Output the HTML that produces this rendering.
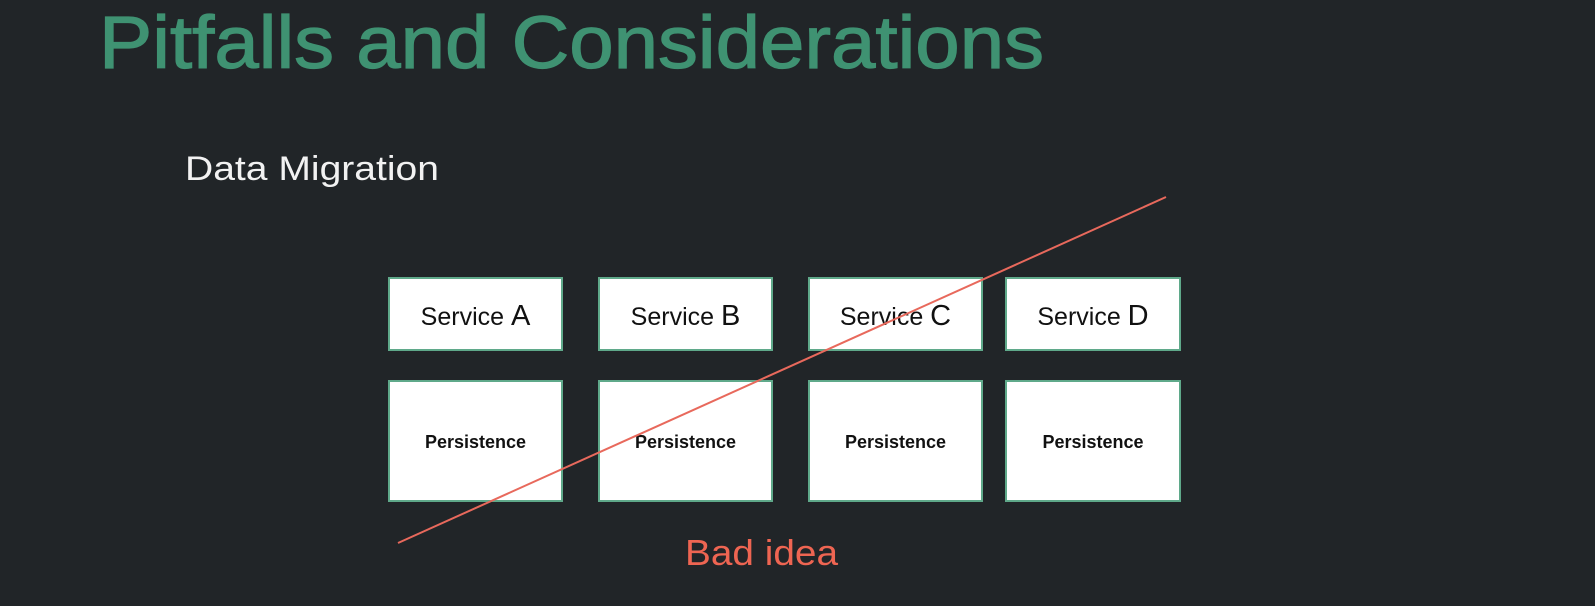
<!DOCTYPE html>
<html><head><meta charset="utf-8"><style>
html,body{margin:0;padding:0;background:#212528;}
svg{display:block;}
</style></head><body>
<svg width="1595" height="606" viewBox="0 0 1595 606" xmlns="http://www.w3.org/2000/svg">
<rect width="1595" height="606" fill="#212528"/>
<text x="99" y="68" font-family="Liberation Sans, sans-serif" font-size="74" fill="#3f9272" stroke="#3f9272" stroke-width="1.2" textLength="945" lengthAdjust="spacingAndGlyphs">Pitfalls and Considerations</text>
<text x="185" y="180" font-family="Liberation Sans, sans-serif" font-size="34" fill="#f2f2f2" textLength="254" lengthAdjust="spacingAndGlyphs">Data Migration</text>
<g stroke="#5fa98a" stroke-width="2" fill="#ffffff">
<rect x="389" y="278" width="173" height="72"/>
<rect x="599" y="278" width="173" height="72"/>
<rect x="809" y="278" width="173" height="72"/>
<rect x="1006" y="278" width="174" height="72"/>
<rect x="389" y="381" width="173" height="120"/>
<rect x="599" y="381" width="173" height="120"/>
<rect x="809" y="381" width="173" height="120"/>
<rect x="1006" y="381" width="174" height="120"/>
</g>
<g font-family="Liberation Sans, sans-serif" font-size="25" fill="#111" text-anchor="middle">
<text x="475.5" y="325">Service <tspan font-size="29">A</tspan></text>
<text x="685.5" y="325">Service <tspan font-size="29">B</tspan></text>
<text x="895.5" y="325">Service <tspan font-size="29">C</tspan></text>
<text x="1093" y="325">Service <tspan font-size="29">D</tspan></text>
</g>
<g font-family="Liberation Sans, sans-serif" font-size="18" font-weight="bold" fill="#111" text-anchor="middle">
<text x="475.5" y="448">Persistence</text>
<text x="685.5" y="448">Persistence</text>
<text x="895.5" y="448">Persistence</text>
<text x="1093" y="448">Persistence</text>
</g>
<line x1="398" y1="543" x2="1166" y2="197" stroke="#e8695c" stroke-width="2"/>
<text x="685" y="565" font-family="Liberation Sans, sans-serif" font-size="36" fill="#ee6552" textLength="153" lengthAdjust="spacingAndGlyphs">Bad idea</text>
</svg>
</body></html>
